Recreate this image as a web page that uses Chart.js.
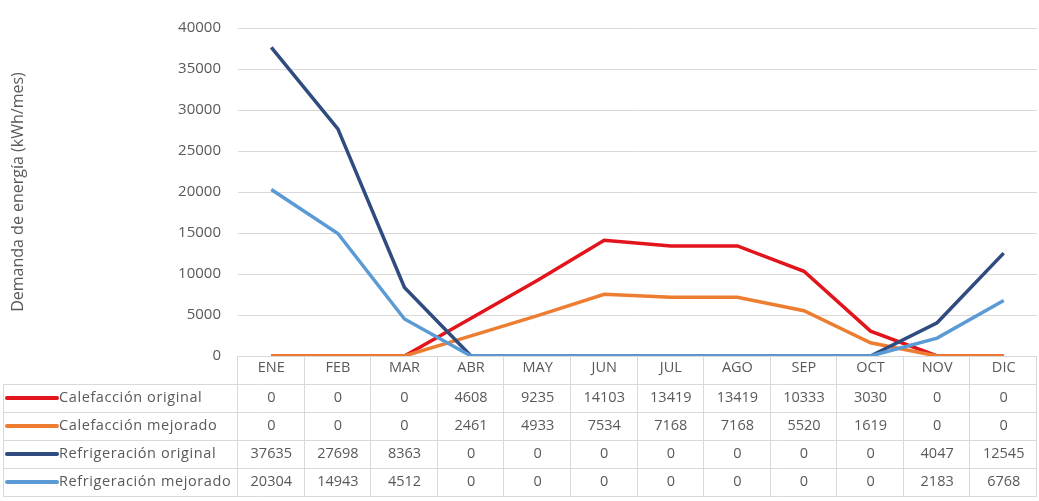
<!DOCTYPE html>
<html>
<head>
<meta charset="utf-8">
<script src="https://cdn.jsdelivr.net/npm/chart.js@4.4.0/dist/chart.umd.min.js"></script>
<style>
  html, body { margin: 0; padding: 0; background: #fff; }
</style>
</head>
<body>
<canvas id="myChart" width="1039" height="501"></canvas>
<script>
// Data
let months = ['ENE', 'FEB', 'MAR', 'ABR', 'MAY', 'JUN', 'JUL', 'AGO', 'SEP', 'OCT', 'NOV', 'DIC'];
let calefaccionOriginal = [0, 0, 0, 4608, 9235, 14103, 13419, 13419, 10333, 3030, 0, 0];
let calefaccionMejorado = [0, 0, 0, 2461, 4933, 7534, 7168, 7168, 5520, 1619, 0, 0];
let refrigeracionOriginal = [37635, 27698, 8363, 0, 0, 0, 0, 0, 0, 0, 4047, 12545];
let refrigeracionMejorado = [20304, 14943, 4512, 0, 0, 0, 0, 0, 0, 0, 2183, 6768];
let seriesNames = ['Calefacción original', 'Calefacción mejorado', 'Refrigeración original', 'Refrigeración mejorado'];
let seriesColors = ['#e2141c', '#ed7d31', '#2f4b7f', '#5b9bd5'];
let yMin = 0;
let yMax = 40000;
let yStep = 5000;
let yTitle = 'Demanda de energía (kWh/mes)';

let seriesData = [calefaccionOriginal, calefaccionMejorado, refrigeracionOriginal, refrigeracionMejorado];
let textColor = '#595959';
let gridColor = '#d9d9d9';
let fontFamily = '"Open Sans", sans-serif';

// draws the Excel style data table under the plot
let dataTablePlugin = {
  id: 'dataTable',
  afterDraw(chart) {
    let ctx = chart.ctx;
    let x = chart.scales.x;
    let top = chart.chartArea.bottom;
    let rowH = 28;
    let tableLeft = 3;
    let colW = (x.right - x.left) / months.length;
    let bottom = top + rowH * (seriesData.length + 1);

    ctx.save();
    ctx.strokeStyle = gridColor;
    ctx.lineWidth = 1;
    ctx.beginPath();
    ctx.moveTo(x.left, Math.round(top) + 0.5);
    ctx.lineTo(x.right, Math.round(top) + 0.5);
    for (let r = 1; r <= seriesData.length + 1; r++) {
      let yy = Math.round(top + r * rowH) + 0.5;
      ctx.moveTo(tableLeft, yy);
      ctx.lineTo(x.right, yy);
    }
    for (let c = 0; c <= months.length; c++) {
      let xx = Math.round(x.left + c * colW) - 0.5;
      ctx.moveTo(xx, top);
      ctx.lineTo(xx, bottom);
    }
    ctx.moveTo(tableLeft + 0.5, top + rowH);
    ctx.lineTo(tableLeft + 0.5, bottom);
    ctx.stroke();

    ctx.font = '14.5px ' + fontFamily;
    ctx.textBaseline = 'middle';
    for (let s = 0; s < seriesData.length; s++) {
      let cy = top + rowH * (s + 1) + rowH / 2;
      // legend key
      ctx.strokeStyle = seriesColors[s];
      ctx.lineWidth = 4;
      ctx.lineCap = 'round';
      ctx.beginPath();
      ctx.moveTo(7, cy);
      ctx.lineTo(57, cy);
      ctx.stroke();
      ctx.fillStyle = textColor;
      ctx.textAlign = 'left';
      ctx.letterSpacing = '0.6px';
      ctx.fillText(seriesNames[s], 59, cy);
      ctx.letterSpacing = '0px';
      // values
      ctx.textAlign = 'center';
      for (let i = 0; i < months.length; i++) {
        ctx.fillText(String(seriesData[s][i]), x.getPixelForValue(i), cy);
      }
    }
    ctx.restore();
  }
};

let datasets = [];
for (let s = 0; s < seriesData.length; s++) {
  datasets.push({
    label: seriesNames[s],
    data: seriesData[s],
    borderColor: seriesColors[s],
    backgroundColor: seriesColors[s],
    borderWidth: 3.5,
    pointRadius: 0,
    tension: 0,
    fill: false,
    order: seriesData.length - s
  });
}

let ctx = document.getElementById('myChart').getContext('2d');
let myChart = new Chart(ctx, {
  type: 'line',
  data: {
    labels: months,
    datasets: datasets
  },
  options: {
    responsive: false,
    animation: false,
    devicePixelRatio: 1,
    layout: { padding: { top: 28, right: 2, left: 0, bottom: 0 } },
    plugins: {
      legend: { display: false },
      tooltip: { enabled: false }
    },
    scales: {
      x: {
        offset: true,
        grid: { display: false, drawTicks: false },
        border: { display: false },
        ticks: {
          color: textColor,
          font: { family: fontFamily, size: 14.5 },
          padding: 3,
          maxRotation: 0,
          autoSkip: false
        },
        afterFit: function (scale) { scale.height = 145; }
      },
      y: {
        min: yMin,
        max: yMax,
        grid: { color: gridColor, lineWidth: 1, drawTicks: false },
        border: { display: false },
        ticks: {
          stepSize: yStep,
          color: textColor,
          font: { family: fontFamily, size: 15 },
          padding: 17,
          callback: function (value) { return String(value); }
        },
        title: {
          display: true,
          text: yTitle,
          color: textColor,
          font: { family: fontFamily, size: 16 },
          padding: { top: 9, bottom: 0 }
        },
        afterFit: function (scale) { scale.width = 238; }
      }
    }
  },
  plugins: [dataTablePlugin]
});
</script>
</body>
</html>
